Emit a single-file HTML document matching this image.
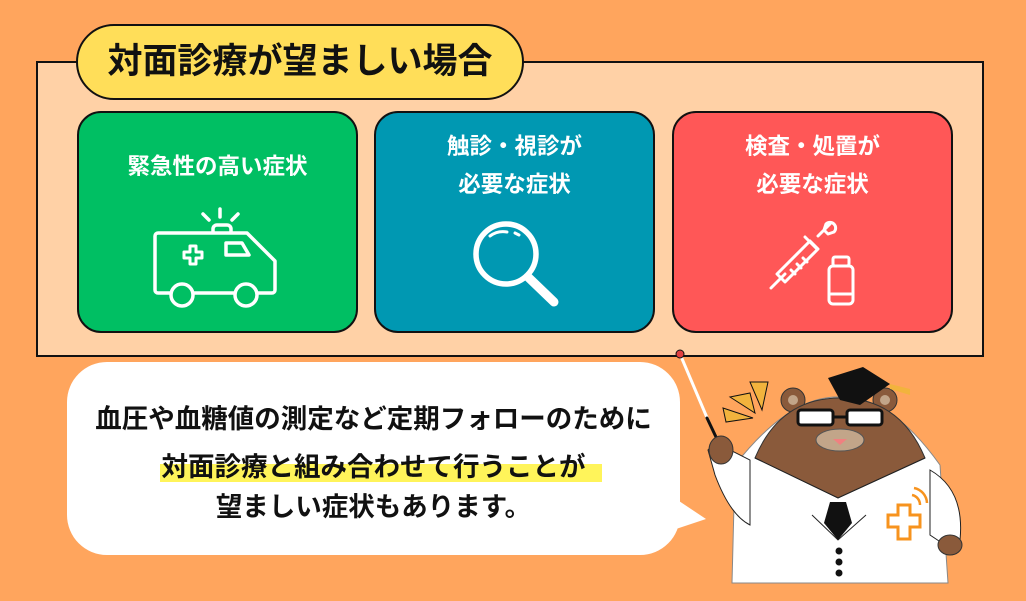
<!DOCTYPE html>
<html><head><meta charset="utf-8"><style>
body{margin:0;width:1026px;height:601px;background:#FFA55D;position:relative;overflow:hidden;font-family:"Liberation Sans","Noto Sans CJK JP",sans-serif;font-weight:bold}
.panel{position:absolute;left:36px;top:61px;width:944px;height:292px;background:#FFD1A6;border:2px solid #111}
.tab{position:absolute;left:76px;top:24px;width:444px;height:72px;background:#FFDE59;border:2px solid #111;border-radius:38px;font-size:35px;line-height:72px;text-align:center;color:#111}
.card{position:absolute;top:111px;width:277px;height:218px;border:2px solid #111;border-radius:24px;color:#fff;text-align:center;font-size:22.5px;line-height:38px}
.bubble{position:absolute;left:67px;top:362px;width:613px;height:193px;background:#fff;border-radius:40px}
.bt{position:absolute;left:67px;width:613px;text-align:center;font-size:26.5px;color:#111}
</style></head><body>
<div class="panel"></div>
<div class="tab">対面診療が望ましい場合</div>
<div class="card" style="left:77px;background:#00BF63"><div style="margin-top:35px">緊急性の高い症状</div></div>
<div class="card" style="left:374px;background:#0098B2"><div style="margin-top:15px">触診・視診が<br>必要な症状</div></div>
<div class="card" style="left:672px;background:#FF5757"><div style="margin-top:15px">検査・処置が<br>必要な症状</div></div>
<svg style="position:absolute;left:0;top:0" width="1026" height="601" fill="none" stroke="#fff" stroke-linecap="round" stroke-linejoin="round">
<g stroke-width="3.5">
<path d="M158 233 h89 l28 28 v29 a3 3 0 0 1 -3 3 h-114 a3 3 0 0 1 -3 -3 v-54 a3 3 0 0 1 3 -3z" fill="#00BF63"/>
<circle cx="182" cy="295" r="11" fill="#00BF63"/><circle cx="246" cy="295" r="11" fill="#00BF63"/>
<path d="M226 243 h16 l7 12 h-23 z"/>
<path d="M213 232 v-3 a4 4 0 0 1 4 -4 h10 a4 4 0 0 1 4 4 v3"/>
<path d="M220 209 v8M203 214 l6 6M238 214 l-6 6"/>
<path d="M190 246 h6 v6 h6 v6 h-6 v6 h-6 v-6 h-6 v-6 h6 z" stroke-width="3"/>
</g>
<circle cx="506" cy="254" r="30" stroke-width="5.5"/><path d="M528 277 l26 25" stroke-width="9"/><path d="M490 236 a22 22 0 0 1 17 -4M515 233 l4 2" stroke-width="3"/>
<g stroke-width="3">
<path d="M771 288 l14 -14M781 278 l-4 -4 l33 -33 l8 8 l-33 33 z M791 270 l4 4M797 264 l4 4M803 258 l4 4M805 237 l12 12M818 236 l12 -12M824 230 l2 -6 a5 5 0 0 1 8 8 l-6 2z"/>
<rect x="829" y="266" width="24" height="38" rx="4"/><rect x="833" y="257" width="16" height="9" rx="2"/><path d="M831 294 h20"/>
</g>
<path d="M680 354 L708 420" stroke="#fff" stroke-width="3"/><path d="M707 418 L716 437" stroke="#111" stroke-width="3"/><circle cx="680" cy="354" r="4" fill="#E04040" stroke="#111" stroke-width="1"/>
</svg>
<div class="bubble"></div>
<svg style="position:absolute;left:670px;top:495px" width="40" height="40"><path d="M0 0 L36 24 L0 36 z" fill="#fff"/></svg>
<div style="position:absolute;left:160px;top:464px;width:442px;height:18px;background:#FFF45A"></div>
<div class="bt" style="top:397px">血圧や血糖値の測定など定期フォローのために</div>
<div class="bt" style="top:445px">対面診療と組み合わせて行うことが</div>
<div class="bt" style="top:485px">望ましい症状もあります。</div>
<svg style="position:absolute;left:690px;top:340px" width="336" height="261">
<path d="M33 68 L63 78 L36 82 z M40 57 L65 73 L60 53 z M60 42 L78 42 L72 70 z" fill="#F2B33D" stroke="#111"/>
<circle cx="103" cy="60" r="12" fill="#8A5A3B" stroke="#333"/><circle cx="195" cy="60" r="12" fill="#8A5A3B" stroke="#333"/>
<circle cx="103" cy="60" r="5" fill="#C2A589"/><circle cx="195" cy="60" r="5" fill="#C2A589"/>
<path d="M42 243 L45 125 Q100 55 150 57 Q200 55 250 125 L258 243 z" fill="#fff" stroke="#888"/>
<path d="M65 118 Q90 58 150 58 Q210 58 235 118 L148 158 z" fill="#8A5A3B" stroke="#333"/>
<path d="M65 118 L148 158 L235 118 M122 175 L148 200 L176 175" fill="none" stroke="#222"/>
<path d="M140 162 L156 162 L162 183 L148 200 L134 183 z" fill="#111"/>
<circle cx="149" cy="211" r="3.5" fill="#111"/><circle cx="149" cy="222" r="3.5" fill="#111"/><circle cx="149" cy="233" r="3.5" fill="#111"/>
<rect x="108" y="70" width="35" height="15" rx="3" fill="#fff" stroke="#111" stroke-width="3"/><rect x="157" y="70" width="35" height="15" rx="3" fill="#fff" stroke="#111" stroke-width="3"/><path d="M143 77 h14" stroke="#111" stroke-width="3"/>
<ellipse cx="150" cy="100" rx="24" ry="11" fill="#C2A589" stroke="#555"/><path d="M143 99 h14 l-7 6 z" fill="#F08080"/>
<path d="M138 38 L173 27 L200 44 L170 65 L150 60 z" fill="#111"/><path d="M200 44 l20 5 l0 6 l-20 -6z" fill="#F2B33D"/>
<path d="M18 110 Q28 98 40 110 L60 120 L60 185 Q40 175 25 135 z" fill="#fff" stroke="#222"/>
<ellipse cx="31" cy="110" rx="12" ry="14" fill="#8A5A3B" stroke="#333"/>
<path d="M240 130 Q275 150 270 200 L255 205 L240 195 z" fill="#fff" stroke="#222"/><ellipse cx="260" cy="205" rx="12" ry="10" fill="#8A5A3B" stroke="#333"/>
<path d="M198 175 h10 v-10 h12 v10 h10 v12 h-10 v12 h-12 v-12 h-10 z" fill="none" stroke="#F7931E" stroke-width="3"/>
<path d="M222 155 a10 10 0 0 1 8 10 M224 148 a16 16 0 0 1 13 15" stroke="#F7931E" stroke-width="2.5" fill="none"/>
</svg>
</body></html>
